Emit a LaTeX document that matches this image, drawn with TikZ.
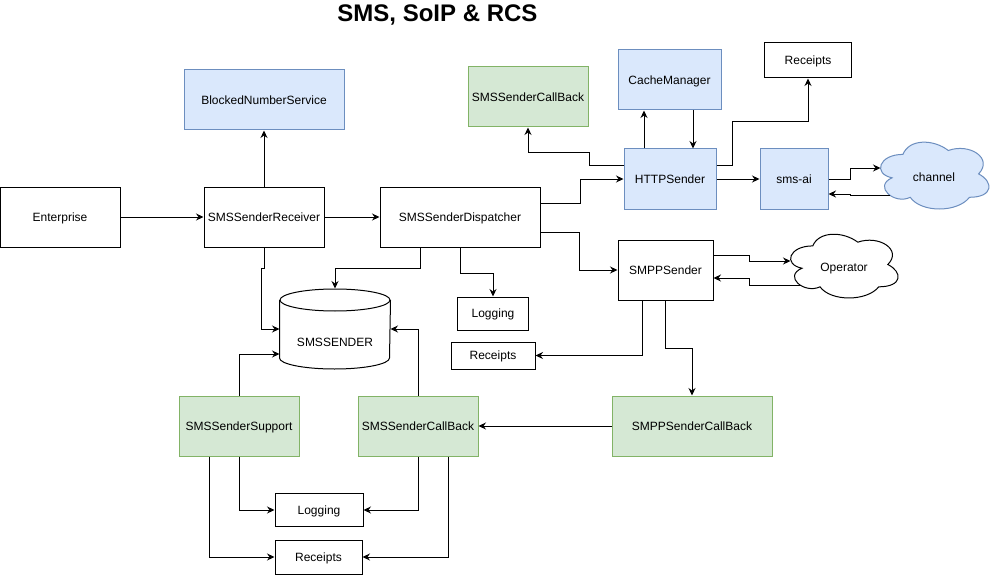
\documentclass[tikz,border=0pt]{standalone}
\usepackage{fontspec}
\setmainfont{Liberation Sans}
\usetikzlibrary{arrows.meta}
\definecolor{bluefill}{HTML}{DAE8FC}
\definecolor{bluestroke}{HTML}{6C8EBF}
\definecolor{greenfill}{HTML}{D5E8D4}
\definecolor{greenstroke}{HTML}{82B366}
\tikzset{
  box/.style={draw=black, fill=white, line width=1pt, inner sep=0pt, text height=8.6pt, text depth=0pt, font=\fontsize{12}{14}\selectfont},
  bluebox/.style={box, draw=bluestroke, fill=bluefill},
  greenbox/.style={box, draw=greenstroke, fill=greenfill},
  hidden/.style={box, draw=none, fill=none},
  arr/.style={draw=black, line width=1pt, -{Stealth[length=7.5pt,width=7pt,inset=2.5pt]}},
}
% draw.io style cloud outline inside a w x h box whose top-left corner is given
\newcommand{\drawiocloud}[4]{% #1 style, #2 top-left, #3 width, #4 height
  \begin{scope}[shift={#2}, x=#3pt, y=-#4pt]
    \draw[#1] (0.25,0.25) .. controls (0.05,0.25) and (0,0.5) .. (0.16,0.55)
      .. controls (0,0.66) and (0.18,0.9) .. (0.31,0.8)
      .. controls (0.4,1) and (0.7,1) .. (0.8,0.8)
      .. controls (1,0.8) and (1,0.6) .. (0.875,0.5)
      .. controls (1,0.3) and (0.8,0.1) .. (0.625,0.2)
      .. controls (0.5,0.05) and (0.3,0.05) .. (0.25,0.25) -- cycle;
  \end{scope}}
\begin{document}
\begin{tikzpicture}[x=1pt,y=-1pt]
\useasboundingbox[fill=white] (0,0) rectangle (993,575);

\node[font=\fontsize{24}{28}\selectfont\bfseries] (title) at (437.5,15) {SMS, SoIP \& RCS};

% clouds (outlines)
\drawiocloud{line width=1pt, draw=bluestroke, fill=bluefill}{(872.7,134.9)}{121}{78}
\drawiocloud{line width=1pt, draw=black, fill=white}{(782.8,227.3)}{120}{74.4}

% nodes
\node[box, minimum width=120pt, minimum height=60pt] (ent) at (60,217) {Enterprise};
\node[box, minimum width=120pt, minimum height=60pt] (recv) at (264,217) {SMSSenderReceiver};
\node[bluebox, minimum width=160pt, minimum height=60pt] (blocked) at (264,100) {BlockedNumberService};
\node[box, minimum width=160pt, minimum height=60pt] (disp) at (460,217) {SMSSenderDispatcher};
\node[greenbox, minimum width=120pt, minimum height=60pt] (cb1) at (528,97) {SMSSenderCallBack};
\node[bluebox, minimum width=103pt, minimum height=60pt] (cache) at (669.5,80) {CacheManager};
\node[box, minimum width=87pt, minimum height=35pt] (rec0) at (808,60.5) {Receipts};
\node[bluebox, minimum width=92pt, minimum height=60pt] (http) at (670,179) {HTTPSender};
\node[bluebox, minimum width=68pt, minimum height=60pt] (smsai) at (794,179) {sms-ai};
\node[hidden, minimum width=108pt, minimum height=64pt] (channel) at (934,177) {channel};
\node[box, minimum width=95pt, minimum height=60pt] (smpp) at (665.5,270) {SMPPSender};
\node[hidden, minimum width=108pt, minimum height=61pt] (op) at (844,267.5) {Operator};
\node[hidden, minimum width=110pt, minimum height=80pt] (db) at (335,329) {};
\node[box, minimum width=71pt, minimum height=33pt] (log1) at (493,313.5) {Logging};
\node[box, minimum width=84pt, minimum height=27pt] (rec1) at (493,355.5) {Receipts};
\node[greenbox, minimum width=120pt, minimum height=60pt] (supp) at (239,426) {SMSSenderSupport};
\node[greenbox, minimum width=120pt, minimum height=60pt] (cb2) at (418,426) {SMSSenderCallBack};
\node[greenbox, minimum width=160pt, minimum height=60pt] (smppcb) at (692,426) {SMPPSenderCallBack};
\node[box, minimum width=88pt, minimum height=33pt] (log2) at (319,510) {Logging};
\node[box, minimum width=87pt, minimum height=34pt] (rec2) at (318.5,557) {Receipts};

% cylinder
\draw[line width=1pt, fill=white] (db.north west |- 0,300) -- (db.south west |- 0,358)
  arc[start angle=180, end angle=0, x radius=55, y radius=11] -- (db.north east |- 0,300);
\draw[line width=1pt, fill=white] (db.north |- 0,300) ellipse [x radius=55, y radius=11];
\node[hidden] at (db.center |- 0,342) {SMSSENDER};

% connectors
\draw[arr] (ent) -- (recv);
\draw[arr] (recv) -- (blocked);
\draw[arr] (recv) -- (disp);
\draw[arr] (disp.east |- 0,203) -- (580,203) -- (580,179) -- (http.west);
\draw[arr] (disp.east |- 0,232) -- (579,232) -- (579,270) -- (smpp.west);
\draw[arr] (disp.south -| 420,0) -- (420,268) -- (335,268) -- (db.north);
\draw[arr] (disp.south -| 460,0) -- (460,273) -- (493,273) -- (log1.north);
\draw[arr] (recv.south) -- (264,268) -- (261,268) -- (261,329) -- (db.west);
\draw[arr] (supp.north) -- (239,354) -- (db.west |- 0,354);
\draw[arr] (cb2.north) -- (418,329) -- (db.east);
\draw[arr] (smpp.south -| 642,0) -- (642,355.5) -- (rec1.east);
\draw[arr] (smpp.south -| 665,0) -- (665,348) -- (692,348) -- (smppcb.north);
\draw[arr] (smppcb) -- (cb2);
\draw[arr] (supp.south) -- (239,510) -- (log2.west);
\draw[arr] (supp.south -| 209,0) -- (209,557) -- (rec2.west);
\draw[arr] (cb2.south) -- (418,510) -- (log2.east);
\draw[arr] (cb2.south -| 448,0) -- (448,557) -- (rec2.east);
\draw[arr] (http.west |- 0,165) -- (589,165) -- (589,153) -- (528,153) -- (cb1.south);
\draw[arr] (http.north -| 644,0) -- (cache.south -| 644,0);
\draw[arr] (cache.south -| 693,0) -- (http.north -| 693,0);
\draw[arr] (http.east |- 0,165) -- (732,165) -- (732,122) -- (808,122) -- (rec0.south);
\draw[arr] (http) -- (smsai);
\draw[arr] (smsai.east) -- (850,179) -- (850,168) -- ([xshift=1pt]channel.west |- 0,168);
\draw[arr] ([xshift=10pt]channel.west |- 0,195) -- (850,195) -- (850,194) -- (smsai.east |- 0,194);
\draw[arr] (smpp.east |- 0,255) -- (749,255) -- (749,261) -- ([xshift=1pt]op.west |- 0,261);
\draw[arr] ([xshift=11pt]op.west |- 0,285) -- (749,285) -- (749,278) -- (smpp.east |- 0,278);
\end{tikzpicture}
\end{document}
